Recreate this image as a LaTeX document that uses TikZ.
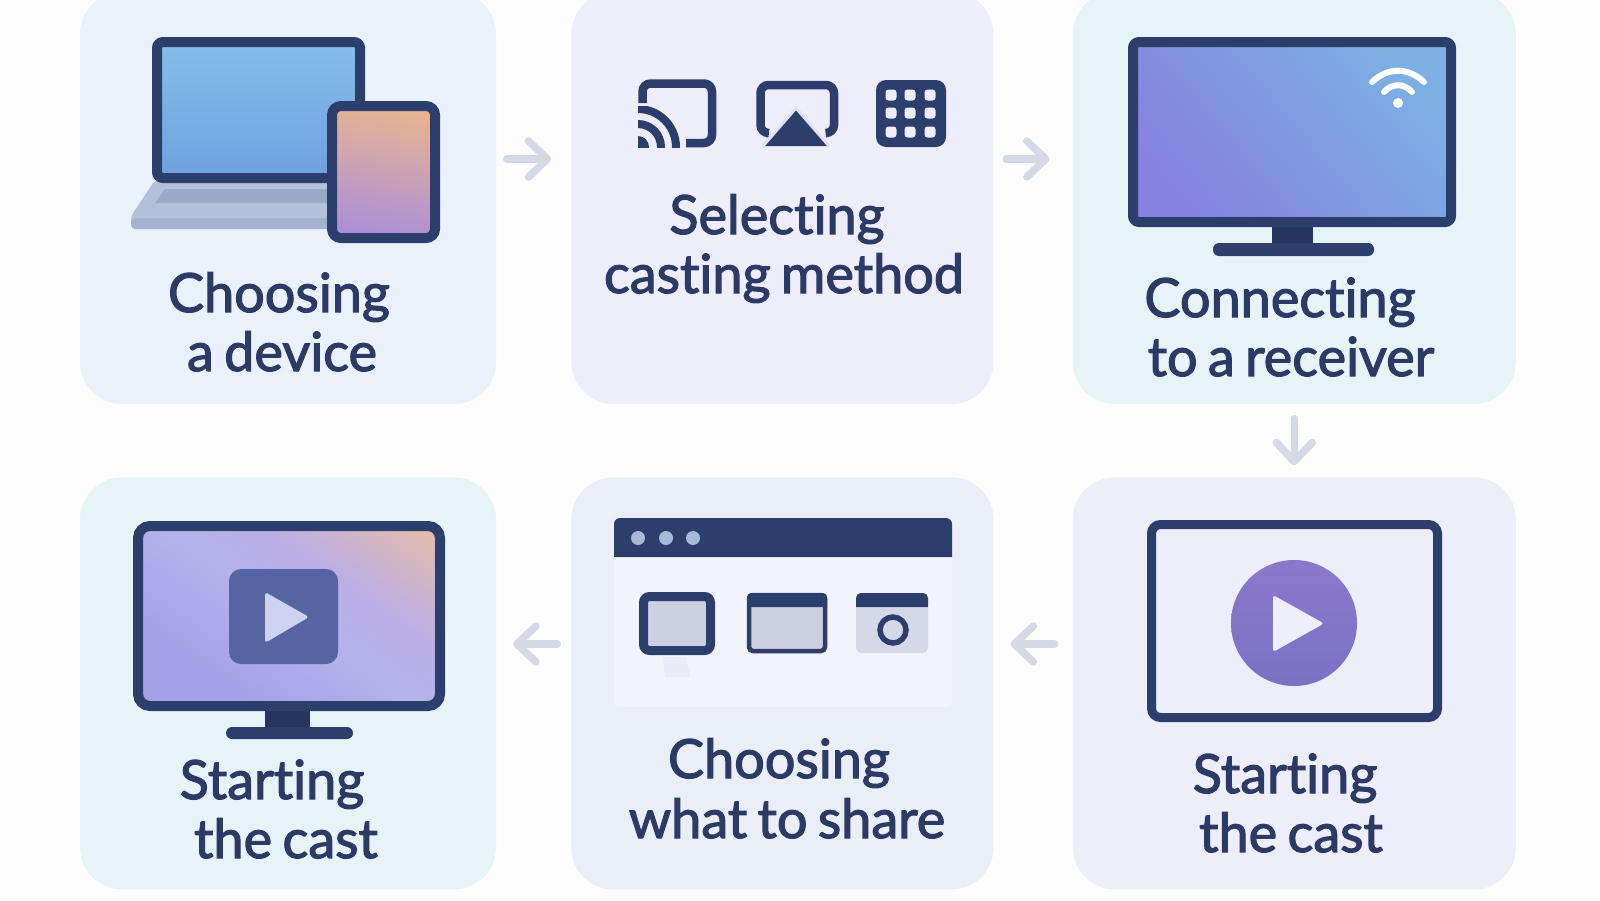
\documentclass[tikz,border=0pt]{standalone}
\usepackage{fontspec}
\usetikzlibrary{positioning, arrows.meta}
\newfontfamily\labelfont{Lato}[FakeBold=2.2, Ligatures=NoCommon, WordSpace=0.75]

\definecolor{navy}{HTML}{2C3E6C}
\definecolor{inknavy}{HTML}{2C3B66}
\definecolor{neckblue}{HTML}{263560}
\definecolor{arrowgrey}{HTML}{D5D8E5}
\definecolor{paper}{HTML}{FDFDFD}
\definecolor{skycard}{HTML}{E9F1FA}
\definecolor{lilaccard}{HTML}{EEEDFA}
\definecolor{mintcard}{HTML}{E6F4F8}
\definecolor{mistcard}{HTML}{E9EEF7}
\definecolor{thumbgrey}{HTML}{CCD1E2}
\definecolor{laptopbody}{HTML}{B3C1DA}
\definecolor{laptoplip}{HTML}{A3B3CF}
\definecolor{laptopkeys}{HTML}{9AABC8}
\definecolor{panelwhite}{HTML}{F2F4FC}
\definecolor{bardot}{HTML}{A9B8D6}
\definecolor{halo}{HTML}{DFE3F4}

\pgfdeclareverticalshading{castscreen}{100bp}{
    rgb(0bp)=(0.64,0.635,0.91); rgb(30bp)=(0.64,0.635,0.91); rgb(50bp)=(0.70,0.70,0.925);
    rgb(62bp)=(0.73,0.68,0.91); rgb(84bp)=(0.90,0.74,0.66); rgb(100bp)=(0.90,0.74,0.66)}

\begin{document}
\begin{tikzpicture}[x=1pt, y=-1pt]
    \tikzstyle{card} = [rectangle, rounded corners=42pt, inner sep=0pt, minimum height=412pt];
    \tikzstyle{caption} = [anchor=base, inner sep=0pt, text=inknavy, font=\labelfont\fontsize{54}{60}\selectfont];
    \tikzstyle{bezel} = [draw=navy, line width=10pt, rounded corners=6pt];
    \tikzstyle{iconline} = [draw=navy, line width=8.5pt, rounded corners=8pt];
    \tikzstyle{flow} = [draw=arrowgrey, line width=7.5pt, line cap=round, -{Straight Barb[length=19pt, width=36pt, round]}];

    \clip (0,0) rectangle (1600,900);
    \fill[paper] (0,0) rectangle (1600,900);

    \node[card, fill=skycard, minimum width=416pt] at (288,198) (devicecard) {};
    \node[card, fill=lilaccard, minimum width=422pt, right=75pt of devicecard] (methodcard) {};
    \node[card, fill=mintcard, minimum width=443pt, right=79pt of methodcard] (receivercard) {};
    \node[card, fill=lilaccard, minimum width=443pt, below=73pt of receivercard] (playcard) {};
    \node[card, fill=mistcard, minimum width=422pt, below=73pt of methodcard] (sharecard) {};
    \node[card, fill=mintcard, minimum width=416pt, below=73pt of devicecard] (castcard) {};

    \coordinate (toprow) at (0,159);
    \coordinate (botrow) at (0,644);
    \draw[flow, shorten <=10.5pt, shorten >=20pt] (devicecard.east |- toprow) -- (methodcard.west |- toprow);
    \draw[flow, shorten <=12.5pt, shorten >=23pt] (methodcard.east |- toprow) -- (receivercard.west |- toprow);
    \draw[flow, shorten <=14.5pt, shorten >=12pt] (receivercard.south) -- (playcard.north);
    \draw[flow, shorten <=18pt, shorten >=17pt] (playcard.west |- botrow) -- (sharecard.east |- botrow);
    \draw[flow, shorten <=14pt, shorten >=17pt] (sharecard.west |- botrow) -- (castcard.east |- botrow);

    \fill[laptopbody, rounded corners=4pt] (155,180) -- (131,216) -- (131,229) -- (345,229) -- (345,180) -- cycle;
    \fill[laptoplip, rounded corners=5pt] (131,218) -- (131,229) -- (345,229) -- (345,218) -- cycle;
    \fill[laptopkeys] (165,189) -- (345,189) -- (345,203) -- (155,203) -- cycle;
    \draw[bezel, top color={rgb,255:red,133;green,190;blue,232}, bottom color={rgb,255:red,110;green,161;blue,224}] (157,42) rectangle (360,178);
    \draw[bezel, rounded corners=9pt, top color={rgb,255:red,232;green,180;blue,147}, bottom color={rgb,255:red,171;green,143;blue,216}, shading angle=-10] (332,106) rectangle (435,238);

    \draw[iconline] (642.5,103) -- (642.5,83.5) -- (712,83.5) -- (712,143) -- (686,143);
    \begin{scope}
        \clip (638,106) rectangle (680,147);
        \fill[navy] (638,147) circle (11);
        \draw[navy, line width=8pt] (638,147) circle (23);
        \draw[navy, line width=8pt] (638,147) circle (38);
    \end{scope}

    \draw[iconline] (766,133) -- (760.5,133) -- (760.5,85) -- (834,85) -- (834,133) -- (827,133);
    \fill[navy, line join=round] (796,108) -- (829,146) -- (763,146) -- cycle;
    \draw[halo, line width=3pt, line join=round] (763,146) -- (796,108) -- (829,146);

    \fill[navy, rounded corners=10pt] (876,80) rectangle (946,147);
    \foreach \px in {891, 910, 930} {
        \foreach \py in {95, 113, 132} {
            \fill[lilaccard, rounded corners=3pt] (\px-5.5,\py-5.5) rectangle (\px+5.5,\py+5.5);
        }
    }

    \fill[neckblue] (1272,225) rectangle (1313,245);
    \fill[navy, rounded corners=6pt] (1213,243) rectangle (1374,256);
    \draw[bezel, bottom color={rgb,255:red,132;green,130;blue,222}, top color={rgb,255:red,125;green,176;blue,227}, shading angle=-50] (1133,42) rectangle (1451,222);
    \fill[white] (1398,103) circle (5);
    \draw[white, line width=6pt, line cap=round] (1372,82) .. controls (1388,67) and (1408,67) .. (1424,82);
    \draw[white, line width=6pt, line cap=round] (1384,92) .. controls (1392,83) and (1404,83) .. (1412,92);

    \draw[bezel, line width=9pt, rounded corners=9pt] (1151.5,524.5) rectangle (1437.5,717.5);
    \shade[top color={rgb,255:red,139;green,120;blue,203}, bottom color={rgb,255:red,122;green,114;blue,196}] (1294,623) circle (63);
    \fill[lilaccard, rounded corners=3pt] (1273,595) -- (1324,623.5) -- (1273,652) -- cycle;

    \fill[panelwhite, rounded corners=6pt] (614,518) rectangle (952,707);
    \fill[navy] (614,557) [rounded corners=6pt] -- (614,518) -- (952,518) [sharp corners] -- (952,557) -- cycle;
    \foreach \px in {638, 666, 693} {
        \fill[bardot] (\px,538) circle (7);
    }
    \fill[thumbgrey!25!panelwhite] (663,657) -- (686,657) -- (690,677) -- (665,677) -- cycle;
    \draw[bezel, line width=9pt, fill=thumbgrey] (643.5,596.5) rectangle (710.5,650.5);
    \draw[draw=navy, line width=4.5pt, rounded corners=4pt, fill=thumbgrey] (749,595) rectangle (825,651);
    \fill[navy] (747,607) [rounded corners=4pt] -- (747,593) -- (827,593) [sharp corners] -- (827,607) -- cycle;
    \fill[thumbgrey!80!panelwhite, rounded corners=5pt] (856,593) rectangle (928,653);
    \fill[navy] (856,607) [rounded corners=5pt] -- (856,593) -- (928,593) [sharp corners] -- (928,607) -- cycle;
    \draw[navy, line width=5.5pt] (893,630) circle (13);

    \fill[neckblue] (265,709) rectangle (310,729);
    \fill[navy, rounded corners=6pt] (226,727) rectangle (353,739);
    \draw[bezel, rounded corners=12pt, shade, shading=castscreen, shading angle=-35] (138,526) rectangle (440,706);
    \fill[rounded corners=12pt, fill={rgb,255:red,85;green,101;blue,161}] (229,569) rectangle (338,664);
    \fill[rounded corners=3pt, fill={rgb,255:red,205;green,210;blue,240}] (265,592) -- (309,617) -- (265,643) -- cycle;

    \node[caption] at (279,312) (devicetop) {Choosing};
    \node[caption] at (282,371) (devicebot) {a device};
    \node[caption] at (777,234) (methodtop) {Selecting};
    \node[caption] at (784,293) (methodbot) {casting method};
    \node[caption] at (1280,317) (receivertop) {Connecting};
    \node[caption] at (1291,376) (receiverbot) {to a receiver};
    \node[caption] at (1285,793) (playtop) {Starting};
    \node[caption] at (1291,852) (playbot) {the cast};
    \node[caption] at (779,778) (sharetop) {Choosing};
    \node[caption] at (787,838) (sharebot) {what to share};
    \node[caption] at (272,799) (casttop) {Starting};
    \node[caption] at (286,858) (castbot) {the cast};
\end{tikzpicture}
\end{document}
